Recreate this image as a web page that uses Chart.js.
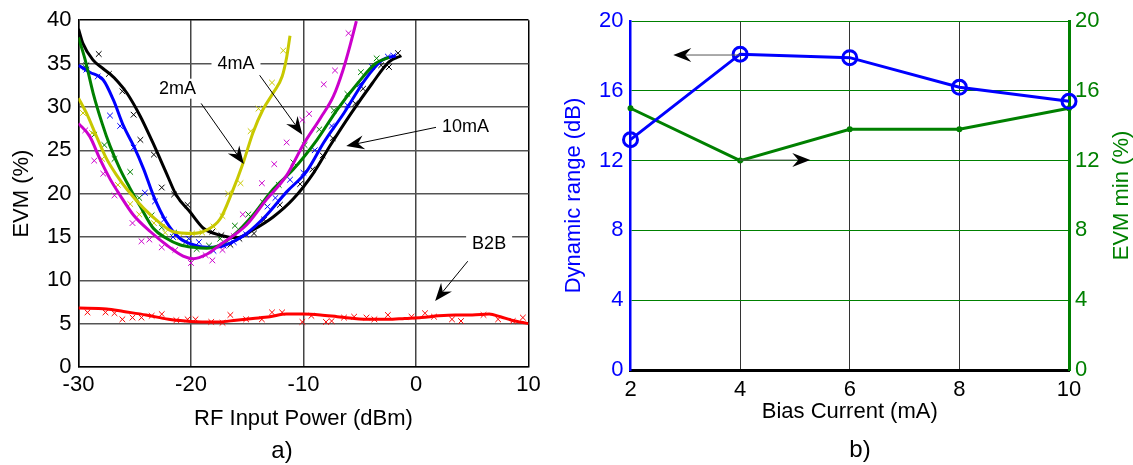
<!DOCTYPE html>
<html>
<head>
<meta charset="utf-8">
<script src="https://cdn.jsdelivr.net/npm/chart.js@4/dist/chart.umd.min.js"></script>
<style>
  html, body { margin: 0; padding: 0; background: #fff; }
  #wrap { position: relative; width: 1133px; height: 465px; overflow: hidden; }
  .box { position: absolute; top: 0; height: 465px; }
</style>
</head>
<body>
<div id="wrap">
  <div class="box" style="left:0;width:560px"><canvas id="evm"></canvas></div>
  <div class="box" style="left:560px;width:573px"><canvas id="bias"></canvas></div>
</div>
<script>
"use strict";

const FONT = "'Liberation Sans', Arial, sans-serif";
Chart.defaults.font.family = FONT;
Chart.defaults.color = "#000";

// ---------------- a) EVM vs RF input power ----------------
const powerTicks = [-30, -20, -10, 0, 10];
const evmTicks = [0, 5, 10, 15, 20, 25, 30, 35, 40];

// smoothed fits
const fit2_x = [-30, -29.3, -28.4, -27.5, -26.6, -25.7, -24.2, -22.75, -21.6, -19.8, -18.6, -17.4, -16.4, -15.35, -14.5, -13.6, -12.7, -11.9, -11.5, -11.2];
const fit2_y = [31.0, 29.3, 26.6, 24.0, 22.1, 20.5, 18.3, 16.6, 15.6, 15.4, 15.8, 17.1, 20.0, 23.6, 27.0, 29.7, 31.6, 33.5, 35.7, 38.2];
const fit4_x = [-30, -29.0, -28.1, -27.2, -26.3, -25.1, -23.6, -22.2, -20.7, -19.8, -18.6, -17.4, -15.05, -13.3, -11.5, -10.0, -8.5, -7.35, -6.5, -5.9, -5.3];
const fit4_y = [28.1, 26.6, 24.0, 21.7, 19.8, 17.5, 15.6, 14.1, 12.8, 12.5, 13.0, 14.1, 16.4, 19.3, 22.1, 25.7, 28.7, 31.2, 34.2, 36.9, 39.9];
const fit6_x = [-30, -29.4, -28.7, -27.9, -27.2, -26.3, -25.5, -24.5, -23.35, -22.2, -21.0, -19.8, -18.6, -17.4, -16.2, -14.5, -12.7, -10.9, -8.8, -7.0, -5.2, -3.6, -2.4];
const fit6_y = [38.0, 35.4, 31.6, 28.1, 25.5, 22.8, 20.8, 18.5, 16.0, 14.85, 14.1, 13.8, 13.7, 14.1, 15.2, 17.5, 20.5, 22.8, 26.2, 29.7, 32.7, 35.0, 35.7];
const fit8_x = [-30, -29.0, -27.8, -26.9, -26.0, -25.1, -24.2, -23.35, -22.2, -21.0, -19.8, -18.6, -17.4, -16.2, -15.05, -13.3, -11.5, -9.7, -8.2, -6.4, -4.55, -3.0, -1.8];
const fit8_y = [34.8, 34.0, 33.1, 30.8, 27.8, 25.5, 22.8, 19.8, 16.75, 14.85, 14.1, 13.8, 13.9, 14.5, 15.4, 17.5, 20.2, 22.6, 25.9, 29.3, 33.1, 35.4, 35.9];
const fit10_x = [-30, -29.6, -28.7, -27.8, -27.2, -26.5, -25.7, -24.5, -23.4, -22.2, -21.3, -20.1, -18.9, -17.4, -15.9, -14.5, -12.7, -10.9, -9.1, -7.6, -5.8, -3.9, -2.4, -1.3];
const fit10_y = [39.0, 37.3, 35.4, 34.4, 33.8, 32.9, 31.6, 28.9, 25.9, 22.4, 19.8, 17.9, 16.0, 15.2, 14.9, 15.8, 17.3, 19.4, 22.4, 25.6, 29.2, 32.7, 35.2, 35.9];
const fitB2B_x = [-30, -27.5, -26, -24, -22, -20.5, -19, -17.5, -16, -14.5, -13, -11.5, -10, -8.5, -7, -5.5, -4, -2.5, -1, 0.5, 2, 3.5, 5, 6.5, 7.5, 8.5, 10];
const fitB2B_y = [6.8, 6.7, 6.4, 6.0, 5.5, 5.3, 5.2, 5.2, 5.4, 5.6, 5.8, 6.1, 6.1, 6.0, 5.8, 5.6, 5.5, 5.5, 5.6, 5.7, 5.9, 6.0, 6.0, 6.1, 5.8, 5.4, 5.0];

// measured points (crosses)
const meas2_x = [-29.6, -28.8, -27.9, -26.5, -25.4, -24.6, -23.3, -22.3, -21.0, -19.9, -19.0, -18.0, -17.2, -16.7, -15.6, -14.7, -14.0, -12.8, -11.8];
const meas2_y = [29.3, 27.0, 24.0, 21.0, 18.8, 17.6, 16.6, 15.5, 15.0, 15.4, 15.5, 16.2, 17.4, 20.0, 21.2, 27.2, 29.8, 32.8, 36.5];
const meas4_x = [-29.4, -28.6, -27.8, -26.8, -25.2, -24.4, -23.7, -22.6, -21.4, -20.0, -18.7, -18.1, -17.2, -16.2, -15.4, -13.7, -12.6, -11.5, -10.1, -9.5, -8.2, -7.2, -6.0];
const meas4_y = [27.3, 23.8, 22.3, 19.8, 16.6, 14.5, 14.7, 13.8, 13.5, 12.0, 12.9, 12.3, 13.5, 15.1, 17.6, 21.2, 23.4, 25.9, 28.5, 29.2, 32.6, 34.2, 38.5];
const meas6_x = [-29.4, -28.6, -27.7, -26.8, -25.4, -24.6, -23.5, -22.6, -21.5, -20.5, -19.5, -18.4, -17.4, -16.1, -14.9, -13.6, -12.2, -10.9, -9.9, -8.6, -7.3, -6.1, -4.9, -3.5];
const meas6_y = [34.6, 26.8, 25.6, 24.0, 22.5, 19.5, 17.5, 16.1, 15.5, 14.4, 13.6, 14.0, 14.8, 16.3, 17.6, 19.0, 21.0, 23.6, 25.6, 27.4, 29.6, 31.5, 34.0, 35.6];
const meas8_x = [-29.3, -28.3, -27.2, -26.3, -25.1, -24.1, -23.2, -22.4, -21.6, -20.2, -19.3, -18.0, -17.1, -16.2, -15.1, -13.2, -12.5, -11.2, -10.0, -9.0, -7.5, -6.1, -5.0, -3.9, -2.5, -2.0];
const meas8_y = [34.3, 33.5, 29.0, 27.8, 25.3, 20.1, 19.1, 17.0, 15.0, 14.8, 14.4, 13.4, 14.0, 14.4, 15.3, 18.5, 19.5, 21.6, 22.4, 25.0, 27.8, 30.2, 32.6, 34.6, 35.8, 35.9];
const meas10_x = [-29.3, -28.2, -27.3, -26.1, -25.1, -24.5, -23.3, -22.6, -21.5, -20.3, -18.1, -17.3, -16.5, -15.7, -14.4, -13.5, -12.1, -10.3, -9.2, -8.3, -7.4, -5.4, -4.7, -3.1, -2.4, -1.6];
const meas10_y = [34.8, 36.1, 33.8, 31.8, 29.1, 26.2, 24.5, 20.7, 19.9, 18.7, 15.6, 15.2, 14.1, 14.8, 15.4, 17.0, 18.7, 21.1, 22.8, 24.4, 26.4, 30.4, 32.1, 34.8, 34.6, 36.2];
const measB2B_x = [-29.2, -27.6, -26.8, -26.1, -25.2, -24.4, -23.5, -22.6, -21.3, -20.3, -19.6, -18.2, -17.2, -16.5, -15.1, -13.7, -12.8, -11.9, -10.1, -9.3, -8.0, -7.5, -6.4, -5.5, -4.4, -3.7, -2.5, -0.4, 0.8, 1.6, 3.2, 4.0, 6.0, 7.3, 8.6, 9.5];
const measB2B_y = [6.3, 6.3, 6.2, 5.5, 5.7, 5.7, 5.9, 6.1, 5.4, 5.5, 5.5, 5.2, 5.1, 6.0, 5.5, 5.5, 6.3, 6.3, 5.2, 5.9, 5.2, 5.3, 5.7, 5.8, 5.7, 5.5, 6.0, 5.8, 6.2, 5.8, 5.5, 5.3, 6.0, 5.5, 5.3, 5.7];

// text labels + arrows (data units)
const evmLabels = ["2mA", "4mA", "10mA", "B2B"];
const evmLabelX = [-21.2, -16.0, 4.4, 6.5];
const evmLabelY = [32.1, 35.0, 27.7, 14.2];
const evmArrowFrom = [[-19.1, 30.4], [-13.9, 33.65], [2.0, 27.7], [4.6, 12.2]];
const evmArrowTo = [[-15.3, 23.4], [-10.1, 26.8], [-6.2, 25.5], [1.7, 7.6]];

// ---------------- b) vs bias current ----------------
const biasCurrent = [2, 4, 6, 8, 10];
const dynamicRange = [13.2, 18.1, 17.9, 16.2, 15.4];
const evmMin = [15.0, 12.0, 13.8, 13.8, 15.0];
const biasTicks = [2, 4, 6, 8, 10];
const rangeTicks = [0, 4, 8, 12, 16, 20];
const biasArrowFrom = [[4.0, 18.05], [3.98, 12.03]];
const biasArrowTo = [[2.78, 18.05], [5.28, 12.03]];

const pts = (xs, ys) => xs.map((x, i) => ({ x, y: ys[i] }));

function drawArrow(ctx, x1, y1, x2, y2, lineColor) {
  const a = Math.atan2(y2 - y1, x2 - x1);
  const L = 18, W = 7, N = 12;
  ctx.save();
  ctx.strokeStyle = lineColor;
  ctx.lineWidth = 1;
  ctx.beginPath();
  ctx.moveTo(x1, y1);
  ctx.lineTo(x2 - N * Math.cos(a), y2 - N * Math.sin(a));
  ctx.stroke();
  ctx.translate(x2, y2);
  ctx.rotate(a);
  ctx.beginPath();
  ctx.moveTo(0, 0);
  ctx.lineTo(-L, -W);
  ctx.lineTo(-N, 0);
  ctx.lineTo(-L, W);
  ctx.closePath();
  ctx.fillStyle = "#000";
  ctx.fill();
  ctx.restore();
}

const evmDecor = {
  id: "evmDecor",
  afterDatasetsDraw(chart) {
    const { ctx, scales: { x, y } } = chart;
    evmArrowFrom.forEach((f, i) => {
      const t = evmArrowTo[i];
      drawArrow(ctx, x.getPixelForValue(f[0]), y.getPixelForValue(f[1]),
        x.getPixelForValue(t[0]), y.getPixelForValue(t[1]), "#000");
    });
    ctx.save();
    ctx.font = "18px " + FONT;
    ctx.textAlign = "center";
    ctx.textBaseline = "middle";
    evmLabels.forEach((lab, i) => {
      const px = x.getPixelForValue(evmLabelX[i]), py = y.getPixelForValue(evmLabelY[i]);
      const w = ctx.measureText(lab).width + 12;
      ctx.fillStyle = "#fff";
      ctx.fillRect(px - w / 2, py - 10, w, 20);
      ctx.fillStyle = "#000";
      ctx.fillText(lab, px, py);
    });
    ctx.font = "24px " + FONT;
    ctx.fillText("a)", 282, 451);
    ctx.restore();
  },
};

const biasDecor = {
  id: "biasDecor",
  afterDatasetsDraw(chart) {
    const { ctx, scales: { x, y } } = chart;
    biasArrowFrom.forEach((f, i) => {
      const t = biasArrowTo[i];
      drawArrow(ctx, x.getPixelForValue(f[0]), y.getPixelForValue(f[1]),
        x.getPixelForValue(t[0]), y.getPixelForValue(t[1]), "#555");
    });
    ctx.save();
    ctx.textAlign = "center";
    ctx.textBaseline = "middle";
    ctx.font = "24px " + FONT;
    ctx.fillStyle = "#000";
    ctx.fillText("b)", 300, 450);
    ctx.translate(561.5, (chart.chartArea.top + chart.chartArea.bottom) / 2);
    ctx.rotate(-Math.PI / 2);
    ctx.font = "22px " + FONT;
    ctx.fillStyle = "#008000";
    ctx.fillText("EVM min (%)", 0, 0);
    ctx.restore();
  },
};

const fitLine = (label, xs, ys, color) => ({
  label, data: pts(xs, ys), showLine: true, borderColor: color, borderWidth: 3,
  pointRadius: 0, cubicInterpolationMode: "monotone", order: 0,
});
const crosses = (label, xs, ys, color) => ({
  label, data: pts(xs, ys), showLine: false, borderColor: color, borderWidth: 1,
  pointStyle: "crossRot", pointRadius: 4, order: 1,
});

new Chart(document.getElementById("evm"), {
  type: "scatter",
  data: {
    datasets: [
      fitLine("B2B", fitB2B_x, fitB2B_y, "#ff0000"),
      fitLine("2mA", fit2_x, fit2_y, "#c8c800"),
      fitLine("4mA", fit4_x, fit4_y, "#cc00cc"),
      fitLine("6mA", fit6_x, fit6_y, "#008000"),
      fitLine("8mA", fit8_x, fit8_y, "#0000ff"),
      fitLine("10mA", fit10_x, fit10_y, "#000000"),
      crosses("B2B meas", measB2B_x, measB2B_y, "#ff0000"),
      crosses("2mA meas", meas2_x, meas2_y, "#c8c800"),
      crosses("4mA meas", meas4_x, meas4_y, "#cc00cc"),
      crosses("6mA meas", meas6_x, meas6_y, "#008000"),
      crosses("8mA meas", meas8_x, meas8_y, "#0000ff"),
      crosses("10mA meas", meas10_x, meas10_y, "#000000"),
    ],
  },
  options: {
    responsive: true, maintainAspectRatio: false, animation: false,
    layout: { padding: { left: 0, right: 31.5, top: 16, bottom: 0 } },
    plugins: { legend: { display: false }, tooltip: { enabled: false } },
    scales: {
      x: {
        type: "linear", min: -30, max: 10,
        afterBuildTicks: (s) => { s.ticks = powerTicks.map((v) => ({ value: v })); },
        afterFit: (s) => { s.height = 98; },
        ticks: { font: { size: 22 }, padding: 5, color: "#000" },
        grid: { color: (c) => (c.tick && c.tick.value === 10 ? "#000" : "#444"), lineWidth: 1.5, drawTicks: false },
        border: { color: "#000", width: 1.5 },
        title: { display: true, text: "RF Input Power (dBm)", font: { size: 22 }, color: "#000", padding: { top: 0, bottom: 33 } },
      },
      y: {
        min: 0, max: 40,
        afterBuildTicks: (s) => { s.ticks = evmTicks.map((v) => ({ value: v })); },
        afterFit: (s) => { s.width = 78.5; },
        ticks: { font: { size: 22 }, padding: 7, color: "#000" },
        grid: { color: (c) => (c.tick && c.tick.value === 40 ? "#000" : "#555"), lineWidth: 1.5, drawTicks: false },
        border: { color: "#000", width: 1.5 },
        title: { display: true, text: "EVM (%)", font: { size: 22 }, color: "#000", padding: { top: 9, bottom: 0 } },
      },
    },
  },
  plugins: [evmDecor],
});

new Chart(document.getElementById("bias"), {
  type: "line",
  data: {
    datasets: [
      {
        label: "Dynamic range", data: pts(biasCurrent, dynamicRange), yAxisID: "y",
        borderColor: "#0000ff", borderWidth: 3, backgroundColor: "transparent",
        pointStyle: "circle", pointRadius: 7, pointBorderWidth: 3, pointBackgroundColor: "transparent",
        tension: 0, clip: false,
      },
      {
        label: "EVM min", data: pts(biasCurrent, evmMin), yAxisID: "y1",
        borderColor: "#008000", borderWidth: 3, backgroundColor: "#008000",
        pointRadius: 1.5, tension: 0, clip: false,
      },
    ],
  },
  options: {
    responsive: true, maintainAspectRatio: false, animation: false,
    layout: { padding: { left: 0, right: 0, top: 21, bottom: 0 } },
    plugins: { legend: { display: false }, tooltip: { enabled: false } },
    scales: {
      x: {
        type: "linear", min: 2, max: 10,
        afterBuildTicks: (s) => { s.ticks = biasTicks.map((v) => ({ value: v })); },
        afterFit: (s) => { s.height = 95; },
        ticks: { font: { size: 22 }, padding: 7, color: "#000" },
        grid: { color: "#333", lineWidth: 1, drawTicks: false },
        border: { color: "#000", width: 3 },
        title: { display: true, text: "Bias Current (mA)", font: { size: 22 }, color: "#000", padding: { top: 0, bottom: 40 } },
      },
      y: {
        position: "left", min: 0, max: 20,
        afterBuildTicks: (s) => { s.ticks = rangeTicks.map((v) => ({ value: v })); },
        afterFit: (s) => { s.width = 70.5; },
        ticks: { font: { size: 22 }, padding: 7, color: "#0000ff" },
        grid: { color: "#008000", lineWidth: 1, drawTicks: false },
        border: { color: "#0000ff", width: 2.5 },
        title: { display: true, text: "Dynamic range (dB)", font: { size: 22 }, color: "#0000ff", padding: { top: 1, bottom: 0 } },
      },
      y1: {
        position: "right", min: 0, max: 20,
        afterBuildTicks: (s) => { s.ticks = rangeTicks.map((v) => ({ value: v })); },
        afterFit: (s) => { s.width = 64; },
        ticks: { font: { size: 22 }, padding: 6, color: "#008000" },
        grid: { drawOnChartArea: false, drawTicks: false },
        border: { color: "#008000", width: 3 },
      },
    },
  },
  plugins: [biasDecor],
});
</script>
</body>
</html>
